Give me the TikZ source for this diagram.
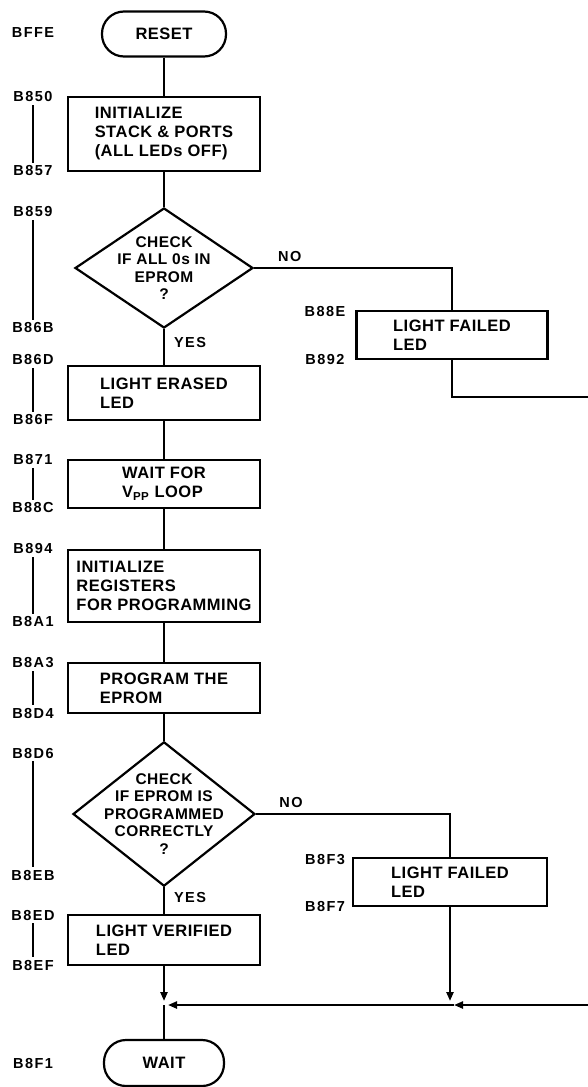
\documentclass[tikz,border=0pt]{standalone}
\usepackage{fontspec}
\newfontfamily\chartfont{Liberation Sans}[LetterSpace=3]
\newfontfamily\addrfont{Liberation Sans}[LetterSpace=10]
\usetikzlibrary{shapes.geometric, arrows.meta, positioning}
\tikzset{
  fc/term/.style={rectangle, draw, rounded corners=22pt, line width=2.2pt,
    minimum width=124pt, minimum height=45pt, inner sep=0pt,
    font=\chartfont\bfseries\fontsize{16.5}{19}\selectfont},
  fc/op/.style={rectangle, draw, line width=2.2pt,
    minimum width=192pt, align=left, inner sep=0pt,
    font=\chartfont\bfseries\fontsize{16.5}{19}\selectfont},
  fc/dec/.style={diamond, draw, line width=2.2pt,
    minimum width=178pt, minimum height=120pt, inner sep=-14pt, align=center,
    font=\chartfont\bfseries\fontsize{15.5}{17.5}\selectfont},
  fc/arr/.style={line width=2.2pt},
  fc/tip/.style={-{Triangle[length=9pt,width=7pt]}},
  fc/addr/.style={font=\addrfont\bfseries\fontsize{14.5}{16}\selectfont, inner sep=3pt},
  fc/lbl/.style={font=\addrfont\bfseries\fontsize{14.5}{16}\selectfont, inner sep=1pt},
  fc/tick/.style={line width=1.6pt}
}
\begin{document}
\begin{tikzpicture}[x=1pt, y=-1pt]
  \useasboundingbox (0,0) rectangle (587,1087);
  \node[fc/term] at (164, 34) (s) {RESET};
  \node[fc/op, minimum height=74pt] at (164, 134) (l1) {INITIALIZE\\STACK \& PORTS\\(ALL LEDs OFF)};
  \node[fc/dec] at (164, 268) (d1) {CHECK\\IF ALL 0s IN\\EPROM\\?};
  \node[fc/op, minimum width=191pt, minimum height=48pt] at (452, 335) (l2) {LIGHT FAILED\\LED};
  \node[fc/op, minimum height=54pt] at (164, 393) (l3) {LIGHT ERASED\\LED};
  \node[fc/op, minimum height=48pt] at (164, 484) (l4) {WAIT FOR\\V\textsubscript{PP} LOOP};
  \node[fc/op, minimum height=72pt] at (164, 586) (l5) {INITIALIZE\\REGISTERS\\FOR PROGRAMMING};
  \node[fc/op, minimum height=50pt] at (164, 688) (l6) {PROGRAM THE\\EPROM};
  \node[fc/dec, minimum width=182pt, minimum height=122pt] at (164, 814) (d2)
        {CHECK\\IF EPROM IS\\PROGRAMMED\\CORRECTLY\\?};
  \node[fc/op, minimum width=194pt, minimum height=48pt] at (450, 882) (l7) {LIGHT FAILED\\LED};
  \node[fc/op, minimum height=50pt] at (164, 940) (l8) {LIGHT VERIFIED\\LED};
  \node[fc/term, minimum width=120pt, minimum height=46pt] at (164, 1063) (e) {WAIT};

  % address column
  \node[fc/addr] at (33, 33)   (bffe) {BFFE};
  \node[fc/addr] at (33, 97)   (b850) {B850};
  \node[fc/addr] at (33, 171)  (b857) {B857};
  \node[fc/addr] at (33, 212)  (b859) {B859};
  \node[fc/addr] at (33, 328)  (b86b) {B86B};
  \node[fc/addr] at (33, 360)  (b86d) {B86D};
  \node[fc/addr] at (33, 420)  (b86f) {B86F};
  \node[fc/addr] at (33, 460)  (b871) {B871};
  \node[fc/addr] at (33, 508)  (b88c) {B88C};
  \node[fc/addr] at (33, 549)  (b894) {B894};
  \node[fc/addr] at (33, 622)  (b8a1) {B8A1};
  \node[fc/addr] at (33, 663)  (b8a3) {B8A3};
  \node[fc/addr] at (33, 713)  (b8d4) {B8D4};
  \node[fc/addr] at (33, 753)  (b8d6) {B8D6};
  \node[fc/addr] at (33, 875)  (b8eb) {B8EB};
  \node[fc/addr] at (33, 915)  (b8ed) {B8ED};
  \node[fc/addr] at (33, 965)  (b8ef) {B8EF};
  \node[fc/addr] at (33, 1063) (b8f1) {B8F1};
  \node[fc/addr] at (325, 312) (b88e) {B88E};
  \node[fc/addr] at (325, 360) (b892) {B892};
  \node[fc/addr] at (325, 860) (b8f3) {B8F3};
  \node[fc/addr] at (325, 906) (b8f7) {B8F7};

  \draw[fc/tick] (b850) -- (b857);
  \draw[fc/tick] (b859) -- (b86b);
  \draw[fc/tick] (b86d) -- (b86f);
  \draw[fc/tick] (b871) -- (b88c);
  \draw[fc/tick] (b894) -- (b8a1);
  \draw[fc/tick] (b8a3) -- (b8d4);
  \draw[fc/tick] (b8d6) -- (b8eb);
  \draw[fc/tick] (b8ed) -- (b8ef);

  \coordinate (jl) at (164, 1005);
  \coordinate (jr) at (450, 1005);
  \coordinate (r1) at (600, 397);
  \coordinate (r2) at (600, 1005);

  \draw[fc/arr] (s)  -- (l1);
  \draw[fc/arr] (l1) -- (d1);
  \draw[fc/arr] (d1.east) -| node[fc/lbl, above=4pt, pos=0.09]{NO} (l2.north);
  \draw[fc/arr] (d1) -- node[fc/lbl, right=8pt, pos=0.37]{YES} (l3);
  \draw[fc/arr] (l3) -- (l4);
  \draw[fc/arr] (l4) -- (l5);
  \draw[fc/arr] (l5) -- (l6);
  \draw[fc/arr] (l6) -- (d2);
  \draw[fc/arr] (d2.east) -| node[fc/lbl, above=4pt, pos=0.09]{NO} (l7.north);
  \draw[fc/arr] (d2) -- node[fc/lbl, right=8pt, pos=0.37]{YES} (l8);
  % merge above WAIT
  \draw[fc/arr, fc/tip] (l8) -- ([yshift=4pt]jl);
  \draw[fc/arr, fc/tip] (l7) -- ([yshift=4pt]jr);
  \draw[fc/arr] (jl) -- (e);
  % off the sheet on the right and back
  \draw[fc/arr, fc/tip] (l2.south) |- (r1) -- (r2) -- ([xshift=4pt]jr);
  \draw[fc/arr, fc/tip] ([xshift=4pt]jr) -- ([xshift=4pt]jl);
\end{tikzpicture}
\end{document}
